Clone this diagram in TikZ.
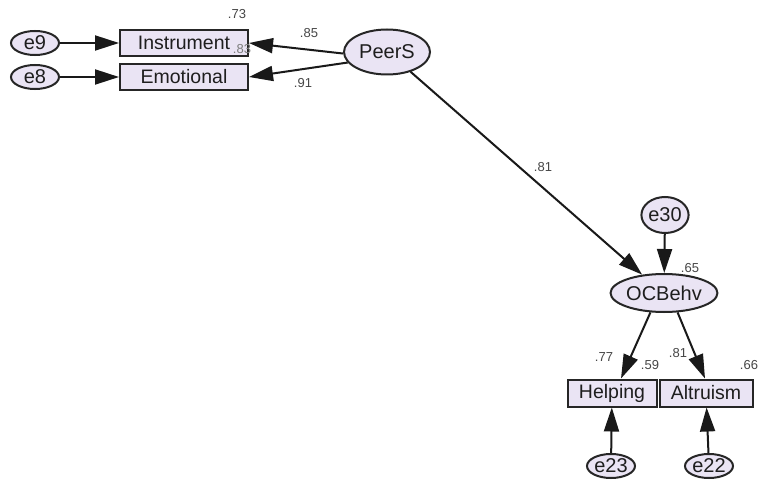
\documentclass[tikz,border=0pt]{standalone}
\usepackage{fontspec}
\setmainfont{Liberation Sans}
\usetikzlibrary{arrows.meta,shapes.geometric}
\definecolor{fillc}{RGB}{234,228,244}
\definecolor{txt}{RGB}{30,30,30}
\definecolor{lbl}{RGB}{70,70,70}
\tikzset{
  obs/.style={draw=black!85, line width=2pt, fill=fillc, rectangle, inner sep=0pt,
     minimum height=26pt, text=txt, font=\fontsize{19.5}{22}\selectfont},
  lat/.style={draw=black!85, line width=2pt, fill=fillc, ellipse, inner sep=0pt,
     text=txt, font=\fontsize{20}{22}\selectfont},
  err/.style={draw=black!85, line width=2pt, fill=fillc, ellipse, inner sep=0pt,
     minimum width=48pt, minimum height=24pt, text=txt, font=\fontsize{20}{22}\selectfont},
  path/.style={draw=black!90, line width=2pt, -{Triangle[length=24pt,width=15pt]}},
  lab/.style={text=lbl, font=\fontsize{13}{15}\selectfont, inner sep=0pt}
}
\begin{document}
\begin{tikzpicture}[x=1pt,y=-1pt]
\useasboundingbox[fill=white] (0,0) rectangle (760,484);
% nodes
\node[err] (e9) at (35,43) {e9};
\node[err] (e8) at (35,77) {e8};
\node[obs, minimum width=128pt] (inst) at (184,43) {Instrument};
\node[obs, minimum width=128pt] (emo) at (184,77) {Emotional};
\node[lat, minimum width=86pt, minimum height=45pt] (peer) at (387,52) {PeerS};
\node[err, minimum width=38pt, minimum height=36pt] (e30) at (665,215) {e30};
\node[lat, minimum width=88pt, minimum height=38pt] (ocb) at (664,293) {OCBehv};
\node[obs, minimum width=89pt, minimum height=27pt] (help) at (612,393) {Helping};
\node[obs, minimum width=93pt, minimum height=27pt] (alt) at (706,393) {Altruism};
\node[err] (e23) at (611,466) {e23};
\node[err] (e22) at (709,466) {e22};
% connectors
\draw[path] (e9) -- (inst);
\draw[path] (e8) -- (emo);
\draw[path] (peer.182) -- (inst.east);
\draw[path] (peer.195) -- (emo.east);
\draw[path] (peer.-40) -- (ocb.140);
\draw[path] (e30) -- (ocb);
\draw[path] (ocb.-125) -- (help.north -| 621,0);
\draw[path] (ocb.-55) -- (alt.north -| 705,0);
\draw[path] (e23) -- (help);
\draw[path] (e22) -- (alt);
% labels
\node[lab] (l73) at (237,14) {.73};
\node[lab, text=lbl!70] (l83) at (242,49) {.83};
\node[lab] (l85) at (309,33) {.85};
\node[lab] (l91) at (303,83) {.91};
\node[lab] (l81a) at (543,167) {.81};
\node[lab] (l65) at (690,268) {.65};
\node[lab] (l77) at (604,357) {.77};
\node[lab] (l59) at (650,365) {.59};
\node[lab] (l81b) at (678,353) {.81};
\node[lab] (l66) at (749,365) {.66};
\end{tikzpicture}
\end{document}
